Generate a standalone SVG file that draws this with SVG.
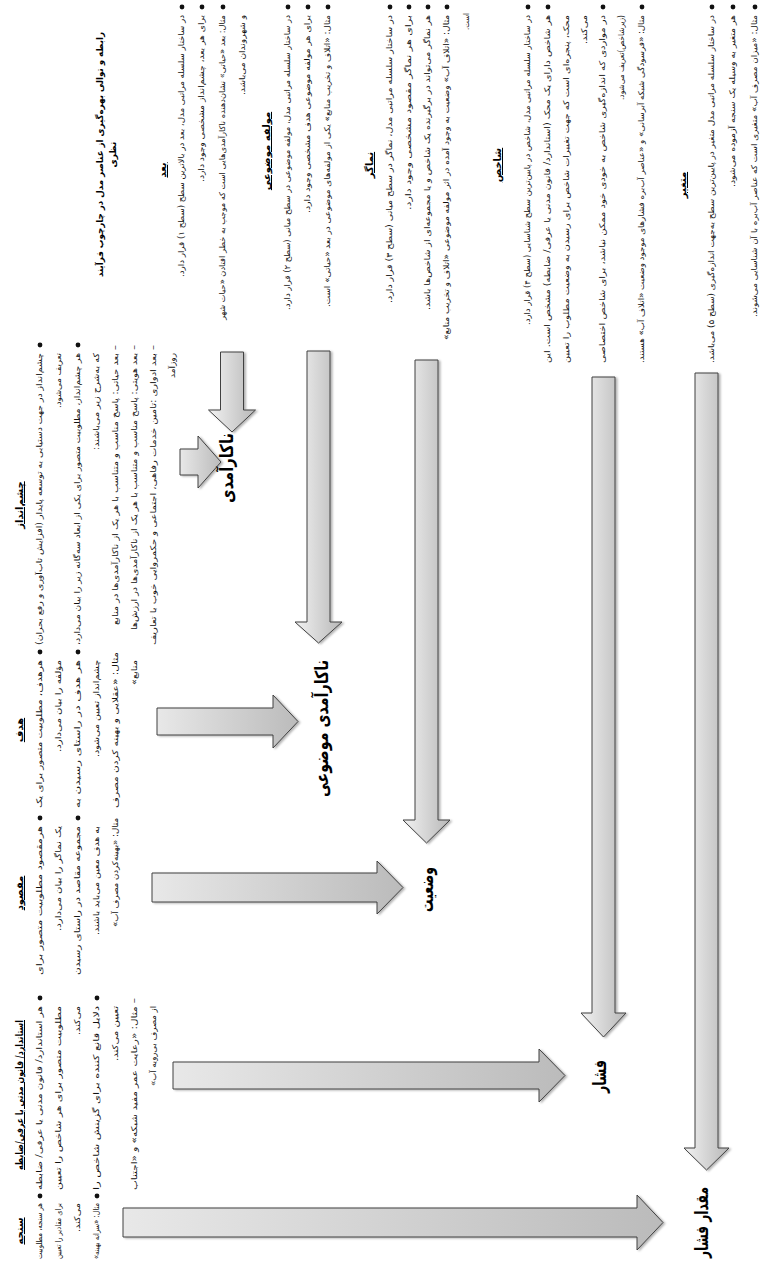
<svg xmlns="http://www.w3.org/2000/svg" width="765" height="1261" viewBox="0 0 765 1261">
<defs>
  <linearGradient id="gv" x1="0" y1="0" x2="1" y2="0">
    <stop offset="0" stop-color="#f2f2f2"/>
    <stop offset="1" stop-color="#b8b8b8"/>
  </linearGradient>
  <linearGradient id="gh" x1="0" y1="0" x2="1" y2="0">
    <stop offset="0" stop-color="#e8e8e8"/>
    <stop offset="1" stop-color="#bbbbbb"/>
  </linearGradient>
  <filter id="sh" x="-20%" y="-20%" width="140%" height="140%">
    <feDropShadow dx="2" dy="1" stdDeviation="1.2" flood-color="#000" flood-opacity="0.3"/>
  </filter>
</defs>
<style>
  .b{font-family:"DejaVu Sans",sans-serif;font-size:8px;fill:#111;direction:rtl;text-anchor:middle}
  .h{font-family:"DejaVu Sans",sans-serif;font-size:10px;font-weight:bold;fill:#000;text-anchor:middle;text-decoration:underline}
  .ttl{font-family:"DejaVu Sans",sans-serif;font-size:9px;font-weight:bold;fill:#000;text-anchor:middle;direction:rtl}
  .lbl{font-family:"DejaVu Sans",sans-serif;font-size:18px;font-weight:bold;fill:#000;text-anchor:middle;direction:rtl}
  .av{fill:url(#gv);stroke:#404040;stroke-width:1;filter:url(#sh)}
  .ah{fill:url(#gh);stroke:#404040;stroke-width:1;filter:url(#sh)}
  .dot{fill:#111}
</style>

<!-- block arrows, drawn in page coordinates -->
<g id="connectors">
  <path class="av" d="M220.5,352 H243.5 V410 H255.5 L232,432 L208.5,410 H220.5 Z"/>
  <path class="av" d="M307,351 H330 V622 H342 L318.5,643 L295,622 H307 Z"/>
  <path class="av" d="M415,360 H438 V820 H450 L426.5,843 L403,820 H415 Z"/>
  <path class="av" d="M592,377 H615 V1013 H626 L603.5,1037 L581,1013 H592 Z"/>
  <path class="av" d="M695,373 H718 V1148 H729 L706.5,1170 L684,1148 H695 Z"/>
  <path class="ah" d="M180,449 H198 V436 L221,462 L198,488 V475 H180 Z"/>
  <path class="ah" d="M157,708 H273 V695 L298,721.5 L273,748 V735 H157 Z"/>
  <path class="ah" d="M152,873 H377 V861 L403,887.5 L377,914 V902 H152 Z"/>
  <path class="ah" d="M173,1062 H539 V1049 L565,1075.5 L539,1102 V1089 H173 Z"/>
  <path class="ah" d="M123,1208 H637 V1195 L663,1222.5 L637,1250 V1237 H123 Z"/>
</g>

<!-- text blocks: the page is turned a quarter turn, so text is set in the turned frame
     (x runs up the page, y runs to the right); every line is centred on its span -->
<g id="title" transform="translate(0,1261) rotate(-90)">
  <text class="ttl" x="1106.5" y="103" textLength="245" lengthAdjust="spacingAndGlyphs">رابطه و توالی بهره‌گیری از عناصر مدل در چارچوب فرآیند</text>
  <text class="ttl" x="1106.5" y="116">نظری</text>
</g>

<g id="dimension" transform="translate(0,1261) rotate(-90)">
  <text class="h" x="1091" y="166">بعد</text>
  <circle class="dot" cx="1254" cy="182" r="2.4"/>
  <circle class="dot" cx="1254" cy="202" r="2.4"/>
  <circle class="dot" cx="1254" cy="223" r="2.4"/>
  <text class="b" x="1115" y="184" textLength="262" lengthAdjust="spacingAndGlyphs">در ساختار سلسله مراتبی مدل، بعد در بالاترین سطح (سطح ۱) قرار دارد.</text>
  <text class="b" x="1162.5" y="204" textLength="167" lengthAdjust="spacingAndGlyphs">برای هر بعد، چشم‌انداز مشخصی وجود دارد.</text>
  <text class="b" x="1093.5" y="225" textLength="305" lengthAdjust="spacingAndGlyphs">مثال: بعد «حیاتی» نشان‌دهنده ناکارآمدی‌هایی است که موجب به خطر افتادن «حیات شهر</text>
  <text class="b" x="1206" y="245" textLength="80" lengthAdjust="spacingAndGlyphs">و شهروندان می‌باشد.</text>
</g>

<g id="component" transform="translate(0,1261) rotate(-90)">
  <text class="h" x="1110" y="270">مولفه موضوعی</text>
  <circle class="dot" cx="1254" cy="288" r="2.4"/>
  <circle class="dot" cx="1254" cy="308" r="2.4"/>
  <circle class="dot" cx="1254" cy="328" r="2.4"/>
  <text class="b" x="1098.5" y="290" textLength="295" lengthAdjust="spacingAndGlyphs">در ساختار سلسله مراتبی مدل، مولفه موضوعی در سطح میانی (سطح ۲) قرار دارد.</text>
  <text class="b" x="1147" y="310" textLength="198" lengthAdjust="spacingAndGlyphs">برای هر مولفه موضوعی هدف مشخصی وجود دارد.</text>
  <text class="b" x="1100" y="330" textLength="292" lengthAdjust="spacingAndGlyphs">مثال: «اتلاف و تخریب منابع» یکی از مولفه‌های موضوعی در بعد «حیاتی» است.</text>
</g>

<g id="indicator" transform="translate(0,1261) rotate(-90)">
  <text class="h" x="1096" y="373">نماگر</text>
  <circle class="dot" cx="1254" cy="390" r="2.4"/>
  <circle class="dot" cx="1254" cy="409" r="2.4"/>
  <circle class="dot" cx="1254" cy="428" r="2.4"/>
  <circle class="dot" cx="1254" cy="447" r="2.4"/>
  <text class="b" x="1102" y="392" textLength="288" lengthAdjust="spacingAndGlyphs">در ساختار سلسله مراتبی مدل، نماگر در سطح میانی (سطح ۳) قرار دارد.</text>
  <text class="b" x="1148.5" y="411" textLength="195" lengthAdjust="spacingAndGlyphs">برای هر نماگر مقصود مشخصی وجود دارد.</text>
  <text class="b" x="1098.5" y="430" textLength="295" lengthAdjust="spacingAndGlyphs">هر نماگر می‌تواند در برگیرنده یک شاخص و یا مجموعه‌ای از شاخص‌ها باشد.</text>
  <text class="b" x="1083.5" y="449" textLength="325" lengthAdjust="spacingAndGlyphs">مثال: «اتلاف آب» وضعیت به وجود آمده در اثر مولفه موضوعی «اتلاف و تخریب منابع»</text>
  <text class="b" x="1239.5" y="469" textLength="17" lengthAdjust="spacingAndGlyphs">است.</text>
</g>

<g id="index" transform="translate(0,1261) rotate(-90)">
  <text class="h" x="1096" y="501">شاخص</text>
  <circle class="dot" cx="1254" cy="528" r="2.4"/>
  <circle class="dot" cx="1254" cy="548" r="2.4"/>
  <circle class="dot" cx="1254" cy="603" r="2.4"/>
  <circle class="dot" cx="1254" cy="642" r="2.4"/>
  <text class="b" x="1091" y="530" textLength="310" lengthAdjust="spacingAndGlyphs">در ساختار سلسله مراتبی مدل، شاخص در پایین‌ترین سطح شناسایی (سطح ۴) قرار دارد.</text>
  <text class="b" x="1072" y="550" textLength="348" lengthAdjust="spacingAndGlyphs">هر شاخص دارای یک محک (استاندارد/ قانون مدنی یا عرفی/ ضابطه) مشخص است. این</text>
  <text class="b" x="1072" y="569" textLength="348" lengthAdjust="spacingAndGlyphs">محک، پنجره‌ای است که جهت تغییرات شاخص برای رسیدن به وضعیت مطلوب را تعیین</text>
  <text class="b" x="1231.5" y="587" textLength="29" lengthAdjust="spacingAndGlyphs">می‌کند.</text>
  <text class="b" x="1072" y="605" textLength="348" lengthAdjust="spacingAndGlyphs">در مواردی که اندازه‌گیری شاخص به خودی خود ممکن نباشد، برای شاخص اختصاصی</text>
  <text class="b" x="1203.5" y="624" textLength="85" lengthAdjust="spacingAndGlyphs">(زیرشاخص)تعریف می‌شود.</text>
  <text class="b" x="1072" y="644" textLength="348" lengthAdjust="spacingAndGlyphs">مثال: «فرسودگی شبکه آبرسانی» و «عناصر آب‌بره فشارهای موجود وضعیت «اتلاف آب» هستند.</text>
</g>

<g id="variable" transform="translate(0,1261) rotate(-90)">
  <text class="h" x="1076" y="686">متغیر</text>
  <circle class="dot" cx="1254" cy="712" r="2.4"/>
  <circle class="dot" cx="1254" cy="733" r="2.4"/>
  <circle class="dot" cx="1254" cy="755" r="2.4"/>
  <text class="b" x="1072" y="714" textLength="348" lengthAdjust="spacingAndGlyphs">در ساختار سلسله مراتبی مدل متغیر در پایین‌ترین سطح به‌جهت اندازه‌گیری (سطح ۵) می‌باشد.</text>
  <text class="b" x="1160" y="735" textLength="172" lengthAdjust="spacingAndGlyphs">هر متغیر به وسیله یک سنجه آزموده می‌شود.</text>
  <text class="b" x="1095" y="757" textLength="302" lengthAdjust="spacingAndGlyphs">مثال: «میزان مصرف آب» متغیری است که عناصر آب‌بره با آن شناسایی می‌شوند.</text>
</g>

<g id="vision" transform="translate(0,1261) rotate(-90)">
  <text class="h" x="756" y="23">چشم‌انداز</text>
  <circle class="dot" cx="916" cy="40" r="2.4"/>
  <circle class="dot" cx="916" cy="78" r="2.4"/>
  <text class="b" x="762" y="42" textLength="292" lengthAdjust="spacingAndGlyphs">چشم‌انداز در جهت دستیابی به توسعه پایدار (افزایش تاب‌آوری و رفع بحران)</text>
  <text class="b" x="880.5" y="61" textLength="55" lengthAdjust="spacingAndGlyphs">تعریف می‌شود.</text>
  <text class="b" x="762" y="80" textLength="292" lengthAdjust="spacingAndGlyphs">هر چشم‌انداز، مطلوبیت متصور برای یکی از ابعاد سه‌گانه زیر را بیان می‌دارد،</text>
  <text class="b" x="859.5" y="99" textLength="97" lengthAdjust="spacingAndGlyphs">که به‌شرح زیر می‌باشند:</text>
  <text class="b" x="776" y="118" textLength="280" lengthAdjust="spacingAndGlyphs">– بعد حیاتی: پاسخ مناسب و متناسب با هر یک از ناکارآمدی‌ها در منابع</text>
  <text class="b" x="773.5" y="137" textLength="285" lengthAdjust="spacingAndGlyphs">– بعد هویتی: پاسخ مناسب و متناسب با هر یک از ناکارآمدی‌ها در ارزش‌ها</text>
  <text class="b" x="766" y="156" textLength="300" lengthAdjust="spacingAndGlyphs">– بعد ادواری :تامین خدمات رفاهی، اجتماعی و حکمروایی خوب با تعاریف</text>
  <text class="b" x="895.5" y="175" textLength="25" lengthAdjust="spacingAndGlyphs">روزآمد</text>
</g>

<g id="goal" transform="translate(0,1261) rotate(-90)">
  <text class="h" x="531" y="23">هدف</text>
  <circle class="dot" cx="609" cy="40" r="2.4"/>
  <circle class="dot" cx="609" cy="78" r="2.4"/>
  <text class="b" x="527" y="42" textLength="148" lengthAdjust="spacingAndGlyphs">هرهدف، مطلوبیت متصور برای یک</text>
  <text class="b" x="555" y="61" textLength="92" lengthAdjust="spacingAndGlyphs">مؤلفه را بیان می‌دارد.</text>
  <text class="b" x="527" y="80" textLength="148" lengthAdjust="spacingAndGlyphs">هر هدف در راستای رسیدن به</text>
  <text class="b" x="552.5" y="99" textLength="97" lengthAdjust="spacingAndGlyphs">چشم‌انداز تعیین می‌شود.</text>
  <text class="b" x="531" y="118" textLength="156" lengthAdjust="spacingAndGlyphs">مثال: «عقلایی و بهینه کردن مصرف</text>
  <text class="b" x="588.5" y="137" textLength="25" lengthAdjust="spacingAndGlyphs">منابع»</text>
</g>

<g id="purpose" transform="translate(0,1261) rotate(-90)">
  <text class="h" x="368" y="23">مقصود</text>
  <circle class="dot" cx="443" cy="40" r="2.4"/>
  <circle class="dot" cx="443" cy="78" r="2.4"/>
  <text class="b" x="360.5" y="42" textLength="149" lengthAdjust="spacingAndGlyphs">هرمقصود مطلوبیت متصور برای</text>
  <text class="b" x="382.5" y="61" textLength="105" lengthAdjust="spacingAndGlyphs">یک نماگر را بیان می‌دارد.</text>
  <text class="b" x="360.5" y="80" textLength="149" lengthAdjust="spacingAndGlyphs">مجموعه مقاصد در راستای رسیدن</text>
  <text class="b" x="380.5" y="99" textLength="109" lengthAdjust="spacingAndGlyphs">به هدف معین می‌باید باشند.</text>
  <text class="b" x="388.5" y="118" textLength="109" lengthAdjust="spacingAndGlyphs">مثال: «بهینه‌کردن مصرف آب»</text>
</g>

<g id="standard" transform="translate(0,1261) rotate(-90)">
  <text class="h" x="166" y="23" textLength="150" lengthAdjust="spacingAndGlyphs">استاندارد/ قانون مدنی یا عرفی/ضابطه</text>
  <circle class="dot" cx="263" cy="40" r="2.4"/>
  <circle class="dot" cx="263" cy="97" r="2.4"/>
  <text class="b" x="163" y="42" textLength="184" lengthAdjust="spacingAndGlyphs">هر استاندارد/ قانون مدنی یا عرفی/ ضابطه</text>
  <text class="b" x="163" y="61" textLength="184" lengthAdjust="spacingAndGlyphs">مطلوبیت متصور برای هر شاخص را تعیین</text>
  <text class="b" x="240.5" y="80" textLength="29" lengthAdjust="spacingAndGlyphs">می‌کند.</text>
  <text class="b" x="163" y="99" textLength="184" lengthAdjust="spacingAndGlyphs">دلایل قانع کننده برای گزینش شاخص را</text>
  <text class="b" x="227.5" y="118" textLength="55" lengthAdjust="spacingAndGlyphs">تعیین می‌کند.</text>
  <text class="b" x="167" y="137" textLength="192" lengthAdjust="spacingAndGlyphs">– مثال: «رعایت عمر مفید شبکه» و «اجتناب</text>
  <text class="b" x="215" y="156" textLength="80" lengthAdjust="spacingAndGlyphs">از مصرف بی‌رویه آب»</text>
</g>

<g id="measure" transform="translate(0,1261) rotate(-90)">
  <text class="h" x="30" y="23">سنجه</text>
  <circle class="dot" cx="65" cy="40" r="2.4"/>
  <circle class="dot" cx="65" cy="97" r="2.4"/>
  <text class="b" x="30" y="42" textLength="56" lengthAdjust="spacingAndGlyphs">هر سنجه، مطلوبیت</text>
  <text class="b" x="30" y="61" textLength="56" lengthAdjust="spacingAndGlyphs">برای مقادیر را تعیین</text>
  <text class="b" x="43.5" y="80" textLength="29" lengthAdjust="spacingAndGlyphs">می‌کند.</text>
  <text class="b" x="30" y="99" textLength="56" lengthAdjust="spacingAndGlyphs">مثال: «سرانه بهینه»</text>
</g>

<g id="inefficiency" transform="translate(0,1261) rotate(-90)">
  <text class="lbl" x="793" y="233" textLength="70" lengthAdjust="spacingAndGlyphs">ناکارآمدی</text>
</g>
<g id="subject-inefficiency" transform="translate(0,1261) rotate(-90)">
  <text class="lbl" x="532.5" y="328" textLength="137" lengthAdjust="spacingAndGlyphs">ناکارآمدی موضوعی</text>
</g>
<g id="status" transform="translate(0,1261) rotate(-90)">
  <text class="lbl" x="371.5" y="433" textLength="45" lengthAdjust="spacingAndGlyphs">وضعیت</text>
</g>
<g id="pressure" transform="translate(0,1261) rotate(-90)">
  <text class="lbl" x="184.5" y="606" textLength="33" lengthAdjust="spacingAndGlyphs">فشار</text>
</g>
<g id="pressure-amount" transform="translate(0,1261) rotate(-90)">
  <text class="lbl" x="38.5" y="708" textLength="71" lengthAdjust="spacingAndGlyphs">مقدار فشار</text>
</g>
</svg>
